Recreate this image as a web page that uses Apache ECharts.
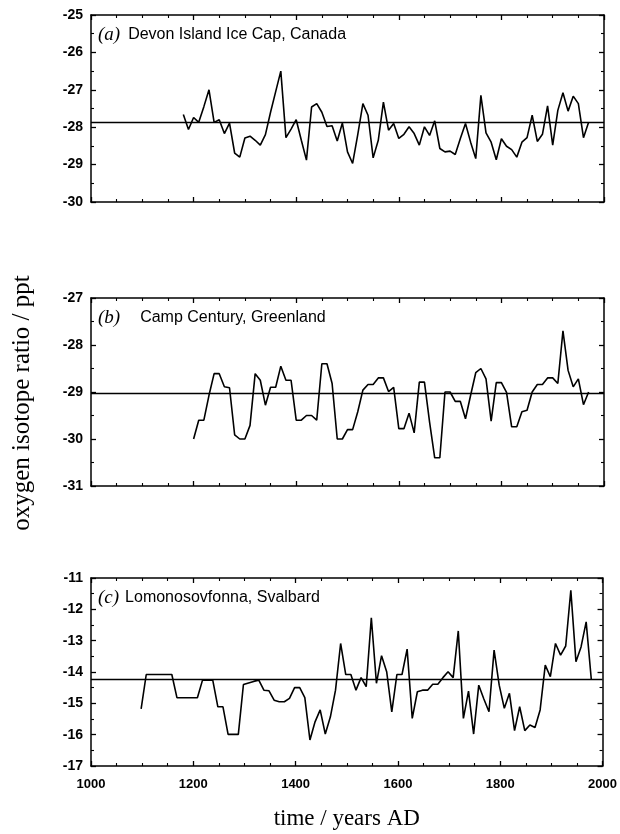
<!DOCTYPE html>
<html>
<head>
<meta charset="utf-8">
<script src="https://cdn.jsdelivr.net/npm/echarts@6/dist/echarts.min.js"></script>
<style>
  html, body { margin: 0; padding: 0; background: #fff; }
  #chart { width: 620px; height: 834px; }
</style>
</head>
<body>
<div id="chart"></div>
<script>
// decadal oxygen isotope series
var step = 10;

var devonStart = 1180;
var devonValues = [
    -27.66, -28.06, -27.74, -27.87, -27.45, -27.0, -27.87, -27.8, -28.17, -27.89,
    -28.69, -28.8, -28.29, -28.24, -28.35, -28.48, -28.2, -27.6, -27.05, -26.5,
    -28.28, -28.05, -27.8, -28.35, -28.88, -27.46, -27.37, -27.6, -27.98, -27.96,
    -28.37, -27.89, -28.66, -28.97, -28.2, -27.37, -27.68, -28.82, -28.35, -27.33,
    -28.08, -27.9, -28.3, -28.19, -27.99, -28.17, -28.48, -27.99, -28.22, -27.83,
    -28.57, -28.66, -28.64, -28.73, -28.3, -27.9, -28.4, -28.84, -27.15, -28.15,
    -28.4, -28.87, -28.31, -28.51, -28.6, -28.8, -28.4, -28.28, -27.68, -28.38,
    -28.19, -27.43, -28.48, -27.55, -27.08, -27.57, -27.17, -27.37, -28.28, -27.87
];
var devonMean = -27.87;

var campStart = 1200;
var campValues = [
    -30.0, -29.6, -29.6, -29.07, -28.61, -28.61, -28.89, -28.91, -29.91, -30.0,
    -30.0, -29.71, -28.61, -28.75, -29.28, -28.9, -28.9, -28.45, -28.75, -28.75,
    -29.6, -29.6, -29.5, -29.5, -29.6, -28.4, -28.4, -28.82, -30.0, -30.0,
    -29.8, -29.8, -29.42, -28.96, -28.84, -28.84, -28.7, -28.7, -28.99, -28.9,
    -29.78, -29.78, -29.45, -29.87, -28.79, -28.79, -29.64, -30.4, -30.4, -29.0,
    -29.0, -29.2, -29.2, -29.57, -29.07, -28.59, -28.5, -28.72, -29.62, -28.8,
    -28.8, -29.01, -29.74, -29.74, -29.42, -29.39, -29.0, -28.84, -28.84, -28.7,
    -28.7, -28.82, -27.7, -28.54, -28.89, -28.72, -29.27, -29.0
];
var campMean = -29.03;

var lomoStart = 1098;
var lomoValues = [
    -15.18, -14.08, -14.08, -14.08, -14.08, -14.08, -14.08, -14.82, -14.82, -14.82,
    -14.82, -14.82, -14.26, -14.26, -14.26, -15.11, -15.11, -15.99, -15.99, -15.99,
    -14.4, -14.35, -14.3, -14.26, -14.58, -14.6, -14.9, -14.95, -14.95, -14.84,
    -14.5, -14.5, -14.82, -16.17, -15.59, -15.21, -15.98, -15.43, -14.58, -13.09,
    -14.08, -14.08, -14.58, -14.18, -14.47, -12.27, -14.36, -13.48, -13.99, -15.27,
    -14.08, -14.08, -13.27, -15.48, -14.63, -14.58, -14.58, -14.39, -14.39, -14.18,
    -13.99, -14.18, -12.69, -15.48, -14.61, -15.98, -14.42, -14.86, -15.27, -13.3,
    -14.42, -15.16, -14.68, -15.87, -15.11, -15.87, -15.69, -15.77, -15.21, -13.78,
    -14.15, -13.09, -13.46, -13.17, -11.39, -13.67, -13.2, -12.4, -14.23
];
var lomoMean = -14.23;

var panelLabels = ['(a)', '(b)', '(c)'];
var panelNames = ['Devon Island Ice Cap, Canada', 'Camp Century, Greenland', 'Lomonosovfonna, Svalbard'];
var yRanges = [[-30, -25], [-31, -27], [-17, -11]];
var xTickLabels = ['1000', '1200', '1400', '1600', '1800', '2000'];
var xTitle = 'time / years AD';
var yTitle = 'oxygen isotope ratio / ppt';

function toPairs(start, values) {
    var out = [];
    for (var i = 0; i < values.length; i++) {
        out.push([start + i * step, values[i]]);
    }
    return out;
}

var SANS = 'Liberation Sans';
var SERIF = 'Liberation Serif';
var tops = [15, 298, 578];
var heights = [187, 188, 188];
var nameGaps = [8, 20, 6];

var grids = [], xAxes = [], yAxes = [], titles = [];
for (var p = 0; p < 3; p++) {
    grids.push({ left: 91, width: 513, top: tops[p], height: heights[p] });
    // bottom and top x axes
    [['bottom', p == 2], ['top', false]].forEach(function (cfg) {
        xAxes.push({
            type: 'value', gridIndex: p, position: cfg[0],
            min: 1000, max: 2000, interval: 200,
            name: (cfg[1] ? xTitle : ''),
            nameLocation: 'middle', nameGap: 41,
            nameTextStyle: { fontFamily: SERIF, fontSize: 23, color: '#000' },
            axisLine: { lineStyle: { color: '#000', width: 1.5 } },
            axisTick: { inside: true, length: 5, lineStyle: { color: '#000', width: 1.3 } },
            minorTick: { show: true, splitNumber: 4, length: 3, lineStyle: { color: '#000', width: 1.1 } },
            axisLabel: {
                show: cfg[1], margin: 12, color: '#000',
                fontFamily: SANS, fontWeight: 'bold', fontSize: 13,
                formatter: function (v) { return xTickLabels.indexOf(String(v)) >= 0 ? String(v) : ''; }
            },
            splitLine: { show: false }
        });
    });
    [['left', true], ['right', false]].forEach(function (cfg) {
        yAxes.push({
            type: 'value', gridIndex: p, position: cfg[0],
            min: yRanges[p][0], max: yRanges[p][1], interval: 1,
            axisLine: { show: true, lineStyle: { color: '#000', width: 1.5 } },
            axisTick: { show: true, inside: true, length: 5, lineStyle: { color: '#000', width: 1.3 } },
            minorTick: { show: true, splitNumber: 2, length: 3, lineStyle: { color: '#000', width: 1.1 } },
            axisLabel: {
                show: cfg[1], margin: 8, color: '#000',
                fontFamily: SANS, fontWeight: 'bold', fontSize: 14
            },
            splitLine: { show: false }
        });
    });
    titles.push({
        text: '{i|' + panelLabels[p] + '}{s|' + panelNames[p] + '}',
        left: 93, top: tops[p] + 5,
        textStyle: {
            rich: {
                i: { fontFamily: SERIF, fontStyle: 'italic', fontWeight: 'normal', fontSize: 19, color: '#000' },
                s: { fontFamily: SANS, fontWeight: 'normal', fontSize: 16, color: '#000', padding: [0, 0, 0, nameGaps[p]] }
            }
        }
    });
}

var seriesData = [toPairs(devonStart, devonValues), toPairs(campStart, campValues), toPairs(lomoStart, lomoValues)];
var means = [devonMean, campMean, lomoMean];

var series = seriesData.map(function (d, p) {
    return {
        type: 'line', xAxisIndex: p * 2, yAxisIndex: p * 2,
        data: d, symbol: 'none', animation: false,
        lineStyle: { color: '#000', width: 1.6 },
        markLine: {
            silent: true, symbol: 'none', animation: false,
            label: { show: false },
            lineStyle: { color: '#000', width: 1.3, type: 'solid' },
            data: [{ yAxis: means[p] }]
        }
    };
});

var chart = echarts.init(document.getElementById('chart'));
chart.setOption({
    backgroundColor: '#fff',
    animation: false,
    title: titles,
    grid: grids,
    xAxis: xAxes,
    yAxis: yAxes,
    series: series,
    graphic: [{
        type: 'text', x: 22, y: 403, rotation: Math.PI / 2,
        style: { text: yTitle, fontFamily: SERIF, fontSize: 25, fill: '#000', textAlign: 'center', textVerticalAlign: 'middle' }
    }]
});
</script>
</body>
</html>
